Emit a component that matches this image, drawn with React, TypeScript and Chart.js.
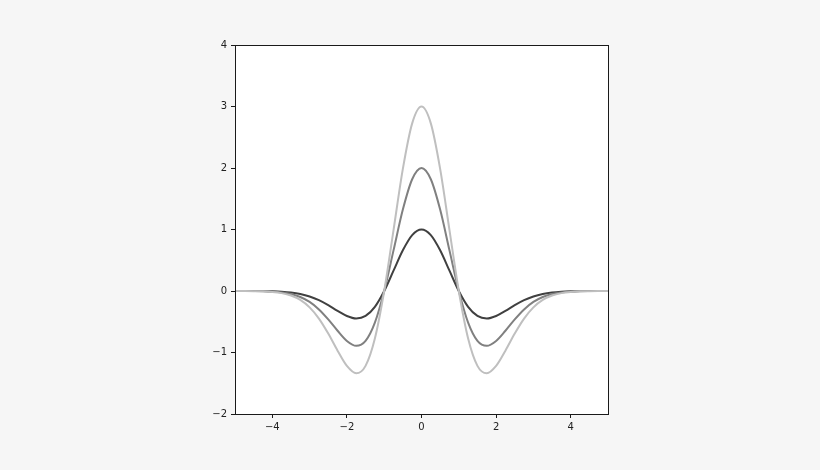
import React, { useEffect, useRef } from 'react';
import { Chart, registerables } from 'chart.js';

Chart.register(...registerables);

// sample positions along x
const xValues = [
  -5, -4.75, -4.5, -4.25, -4, -3.75, -3.5, -3.25, -3, -2.75, -2.5, -2.25, -2, -1.75, -1.5, -1.25, -1, -0.75, -0.5, -0.25,
  0,
  0.25, 0.5, 0.75, 1, 1.25, 1.5, 1.75, 2, 2.25, 2.5, 2.75, 3, 3.25, 3.5, 3.75, 4, 4.25, 4.5, 4.75, 5,
];

// amplitude 1 (dark)
const darkCurve = [
  -0.0001, -0.0003, -0.0008, -0.002, -0.005, -0.0115, -0.0246, -0.0486, -0.0889, -0.1496, -0.2307, -0.3232, -0.406, -0.4461, -0.4058, -0.2575, 0, 0.3302, 0.6619, 0.9087,
  1,
  0.9087, 0.6619, 0.3302, 0, -0.2575, -0.4058, -0.4461, -0.406, -0.3232, -0.2307, -0.1496, -0.0889, -0.0486, -0.0246, -0.0115, -0.005, -0.002, -0.0008, -0.0003, -0.0001,
];

// amplitude 2 (mid grey)
const midCurve = [
  -0.0002, -0.0006, -0.0016, -0.004, -0.01, -0.023, -0.0492, -0.0972, -0.1778, -0.2992, -0.4614, -0.6464, -0.812, -0.8922, -0.8116, -0.515, 0, 0.6604, 1.3238, 1.8174,
  2,
  1.8174, 1.3238, 0.6604, 0, -0.515, -0.8116, -0.8922, -0.812, -0.6464, -0.4614, -0.2992, -0.1778, -0.0972, -0.0492, -0.023, -0.01, -0.004, -0.0016, -0.0006, -0.0002,
];

// amplitude 3 (light grey)
const lightCurve = [
  -0.0003, -0.0009, -0.0024, -0.006, -0.015, -0.0345, -0.0738, -0.1458, -0.2667, -0.4488, -0.6921, -0.9696, -1.218, -1.3383, -1.2174, -0.7725, 0, 0.9906, 1.9857, 2.7261,
  3,
  2.7261, 1.9857, 0.9906, 0, -0.7725, -1.2174, -1.3383, -1.218, -0.9696, -0.6921, -0.4488, -0.2667, -0.1458, -0.0738, -0.0345, -0.015, -0.006, -0.0024, -0.0009, -0.0003,
];

const xTicks = [-4, -2, 0, 2, 4];
const yTicks = [-2, -1, 0, 1, 2, 3, 4];

const toPoints = (ys: number[]) => ys.map((y, i) => ({ x: xValues[i], y }));
const fmt = (v: number | string) => String(v).replace('-', '\u2212');

// white axes box with all four spines, like matplotlib
const framePlugin = {
  id: 'frame',
  beforeDatasetsDraw(chart: Chart) {
    const { ctx, chartArea: a } = chart;
    ctx.save();
    ctx.fillStyle = '#ffffff';
    ctx.fillRect(a.left, a.top, a.right - a.left, a.bottom - a.top);
    ctx.restore();
  },
  afterDraw(chart: Chart) {
    const { ctx, chartArea: a } = chart;
    ctx.save();
    ctx.strokeStyle = '#1a1a1a';
    ctx.lineWidth = 1;
    ctx.strokeRect(Math.round(a.left) + 0.5, Math.round(a.top) + 0.5, Math.round(a.right - a.left), Math.round(a.bottom - a.top));
    ctx.restore();
  },
};

export default function App() {
  const canvasRef = useRef<HTMLCanvasElement | null>(null);

  useEffect(() => {
    document.body.style.margin = '0';
    const canvas = canvasRef.current;
    if (!canvas) return;

    const line = (data: number[], color: string) => ({
      data: toPoints(data),
      borderColor: color,
      borderWidth: 2,
      pointRadius: 0,
      cubicInterpolationMode: 'monotone' as const,
      fill: false,
    });

    const chart = new Chart(canvas, {
      type: 'line',
      data: {
        datasets: [
          line(lightCurve, '#bfbfbf'),
          line(midCurve, '#808080'),
          line(darkCurve, '#404040'),
        ],
      },
      options: {
        responsive: false,
        animation: false,
        layout: { padding: { left: 190, right: 212, top: 45, bottom: 0 } },
        plugins: { legend: { display: false }, tooltip: { enabled: false } },
        scales: {
          x: {
            type: 'linear',
            min: -5,
            max: 5,
            afterBuildTicks: (s: any) => { s.ticks = xTicks.map((v) => ({ value: v })); },
            afterFit: (s: any) => { s.height = 56; },
            grid: { drawOnChartArea: false, drawTicks: true, tickLength: 4, color: '#1a1a1a' },
            border: { display: false },
            ticks: {
              padding: 3,
              maxRotation: 0,
              color: '#222',
              font: { family: 'DejaVu Sans', size: 10 },
              callback: (v) => fmt(v),
            },
          },
          y: {
            type: 'linear',
            min: -2,
            max: 4,
            afterBuildTicks: (s: any) => { s.ticks = yTicks.map((v) => ({ value: v })); },
            afterFit: (s: any) => { s.width = 45; },
            grid: { drawOnChartArea: false, drawTicks: true, tickLength: 4, color: '#1a1a1a' },
            border: { display: false },
            ticks: {
              padding: 4,
              color: '#222',
              font: { family: 'DejaVu Sans', size: 10 },
              callback: (v) => fmt(v),
            },
          },
        },
      },
      plugins: [framePlugin],
    });

    return () => chart.destroy();
  }, []);

  return (
    <div style={{ width: 820, height: 470, background: '#f6f6f6' }}>
      <canvas ref={canvasRef} width={820} height={470}></canvas>
    </div>
  );
}
